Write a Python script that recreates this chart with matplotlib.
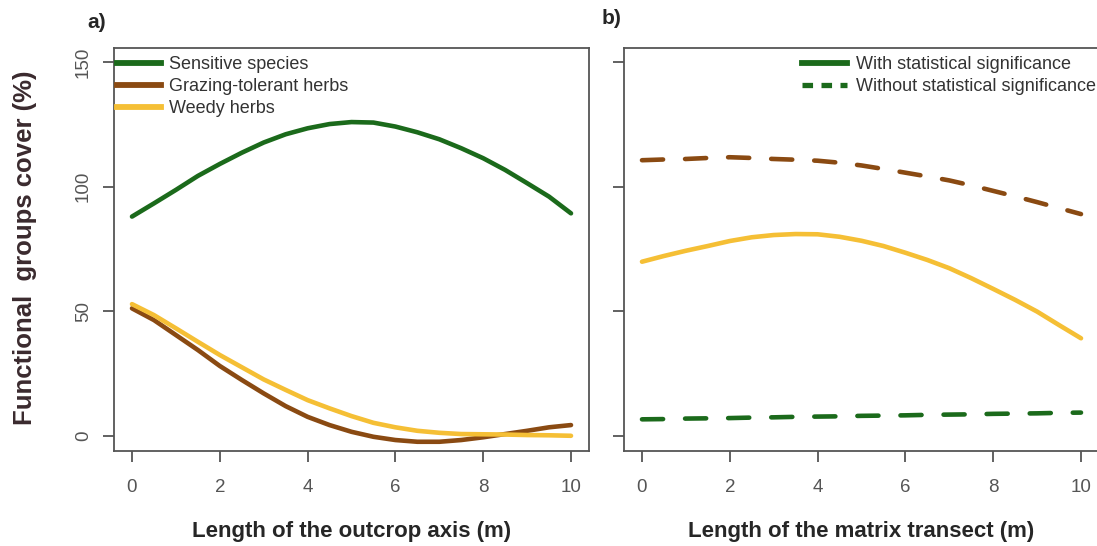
import matplotlib
matplotlib.use("Agg")
import matplotlib.pyplot as plt
from matplotlib.lines import Line2D

plt.rcParams['font.family'] = ['Liberation Sans', 'DejaVu Sans']

# ---- data (at half-metre steps) ----
x_a = [0, 0.5, 1, 1.5, 2, 2.5, 3, 3.5, 4, 4.5, 5, 5.5, 6, 6.5, 7, 7.5, 8, 8.5, 9, 9.5, 10]
sensitive_a = [88.0, 93.3, 98.7, 104.3, 109.1, 113.6, 117.7, 121.0, 123.4, 125.1, 125.9,
               125.7, 124.1, 121.8, 119.0, 115.4, 111.4, 106.7, 101.4, 96.0, 89.3]
grazing_a = [51.2, 46.5, 40.5, 34.5, 28.1, 22.5, 17.1, 12.0, 7.7, 4.4, 1.7,
             -0.3, -1.6, -2.3, -2.3, -1.6, -0.5, 0.8, 2.1, 3.5, 4.4]
weedy_a = [52.9, 48.5, 43.2, 37.8, 32.5, 27.6, 22.7, 18.5, 14.4, 11.1, 8.0,
           5.3, 3.5, 2.1, 1.3, 0.8, 0.7, 0.6, 0.4, 0.3, 0.1]

x_b = [0, 0.5, 1, 1.5, 2, 2.5, 3, 3.5, 4, 4.5, 5, 5.5, 6, 6.5, 7, 7.5, 8, 8.5, 9, 9.5, 10]
sensitive_b = [6.7, 6.8, 7.0, 7.1, 7.2, 7.4, 7.5, 7.7, 7.8, 7.9, 8.1,
               8.2, 8.3, 8.5, 8.6, 8.7, 8.9, 9.0, 9.1, 9.3, 9.4]
grazing_b = [110.6, 110.9, 111.1, 111.5, 111.8, 111.5, 111.1, 110.8, 110.4, 109.6, 108.5,
             107.1, 105.6, 104.1, 102.5, 100.5, 98.3, 96.1, 93.8, 91.4, 89.0]
weedy_b = [69.9, 72.2, 74.3, 76.2, 78.2, 79.7, 80.6, 81.0, 80.9, 79.9, 78.3,
           76.2, 73.5, 70.6, 67.3, 63.3, 59.0, 54.6, 49.9, 44.5, 39.2]

xticks = [0, 2, 4, 6, 8, 10]
yticks = [0, 50, 100, 150]
legend_a = ["Sensitive species", "Grazing-tolerant herbs", "Weedy herbs"]
legend_b = ["With statistical significance", "Without statistical significance"]

GREEN = "#1b6a1b"
BROWN = "#8a4a12"
YELLOW = "#f5bf35"
TICKC = "#555555"
LABC = "#262626"
LW = 3.3
DASH = (0, (4.6, 4.8))

W, H = 1097, 546
fig = plt.figure(figsize=(W / 100, H / 100), dpi=100)
ax_a = fig.add_axes([114 / W, 1 - 451 / H, 475 / W, 403 / H])
ax_b = fig.add_axes([624 / W, 1 - 451 / H, 475 / W, 403 / H])

for ax in (ax_a, ax_b):
    ax.set_xlim(-0.41, 10.41)
    ax.set_ylim(-6.0, 155.6)
    ax.set_xticks(xticks)
    ax.set_yticks(yticks)
    for s in ax.spines.values():
        s.set_color(TICKC)
        s.set_linewidth(1.3)
    ax.tick_params(axis='both', length=8, width=1.3, color=TICKC,
                   labelcolor=TICKC, labelsize=13.5)
    ax.tick_params(axis='x', pad=12)
    ax.tick_params(axis='y', pad=8, labelrotation=90)
    for lbl in ax.get_yticklabels():
        lbl.set_va('center')

ax_b.set_yticklabels([])

# panel a
ax_a.plot(x_a, sensitive_a, color=GREEN, lw=LW, solid_capstyle='round')
ax_a.plot(x_a, grazing_a, color=BROWN, lw=LW, solid_capstyle='round')
ax_a.plot(x_a, weedy_a, color=YELLOW, lw=LW, solid_capstyle='round')

handles_a = [Line2D([], [], color=c, lw=4.2) for c in (GREEN, BROWN, YELLOW)]
ax_a.legend(handles_a, legend_a, loc='upper left', bbox_to_anchor=(-0.006, 0.995),
            frameon=False, fontsize=13, handlelength=2.4, handletextpad=0.45,
            labelspacing=0.28, borderaxespad=0.0, borderpad=0.35,
            labelcolor="#333333")

# panel b
ax_b.plot(x_b, grazing_b, color=BROWN, lw=LW, linestyle=DASH, dash_capstyle='round')
ax_b.plot(x_b, weedy_b, color=YELLOW, lw=LW, solid_capstyle='round')
ax_b.plot(x_b, sensitive_b, color=GREEN, lw=LW, linestyle=DASH, dash_capstyle='round')

handles_b = [Line2D([], [], color=GREEN, lw=4.2),
             Line2D([], [], color=GREEN, lw=3.8, linestyle=(0, (2.0, 1.6)))]
ax_b.legend(handles_b, legend_b, loc='upper right', bbox_to_anchor=(1.006, 0.995),
            frameon=False, fontsize=13, handlelength=2.5, handletextpad=0.45,
            labelspacing=0.28, borderaxespad=0.0, borderpad=0.35,
            labelcolor="#333333")

ax_a.set_xlabel("Length of the outcrop axis (m)", fontsize=16, fontweight='bold',
                color=LABC, labelpad=18)
ax_b.set_xlabel("Length of the matrix transect (m)", fontsize=16, fontweight='bold',
                color=LABC, labelpad=18)
fig.text(25 / W, 1 - 248 / H, "Functional  groups cover (%)", rotation=90,
         fontsize=18.5, fontweight='bold', color="#3a2a2e", ha='center', va='center')

fig.text(97 / W, 1 - 22 / H, "a)", fontsize=15, fontweight='bold', color=LABC,
         ha='center', va='center')
fig.text(612 / W, 1 - 18 / H, "b)", fontsize=15, fontweight='bold', color=LABC,
         ha='center', va='center')

fig.savefig("out.png", dpi=100)
